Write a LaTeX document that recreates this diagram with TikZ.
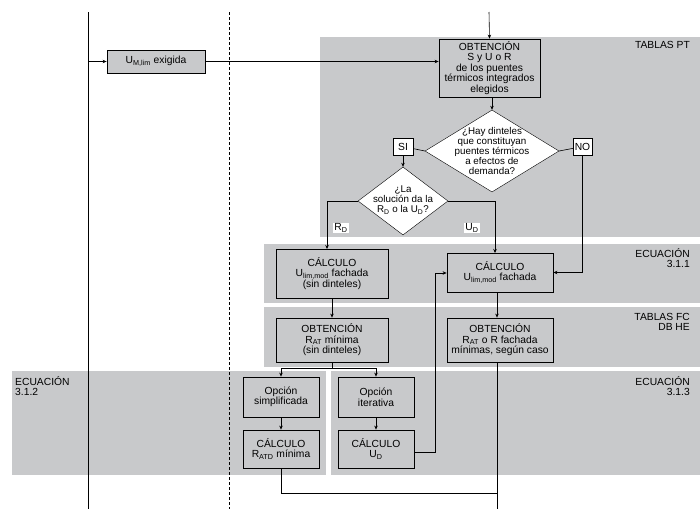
\documentclass[tikz,border=0pt]{standalone}
\usepackage{fontspec}
\setmainfont{Liberation Sans}
\usetikzlibrary{shapes.geometric,arrows.meta}
\definecolor{band}{RGB}{200,201,203}
\begin{document}
\begin{tikzpicture}[x=1pt,y=-1pt,
  every node/.style={font=\fontsize{10.3}{10.5}\selectfont,inner sep=1pt},
  box/.style={draw,fill=band,line width=0.8pt,align=center},
  wbox/.style={draw,fill=white,align=center},
  dia/.style={draw,fill=white,diamond,align=center,inner sep=0pt},
  lab/.style={align=right,anchor=north east},
  arr/.style={-{Stealth[length=4pt,width=3.5pt]},line width=0.6pt},
  ln/.style={line width=0.6pt}]
\useasboundingbox (0,0) rectangle (700,509);
\fill[white] (0,0) rectangle (700,509);
% bands
\fill[band] (320,37) rectangle (700,237);
\fill[band] (264,244) rectangle (700,303);
\fill[band] (264,307) rectangle (700,367);
\fill[band] (12,371) rectangle (326,475);
\fill[band] (331,371) rectangle (700,475);
\node[lab] at (691,40) {TABLAS PT};
\node[lab] at (691,247) {ECUACIÓN\\3.1.1};
\node[lab] at (691,312) {TABLAS FC\\DB HE};
\node[lab] at (691,375) {ECUACIÓN\\3.1.3};
\node[align=left,anchor=north west] at (14,375) {ECUACIÓN\\3.1.2};
% vertical lines
\draw[ln] (88,12) coordinate (s1) -- (88,509);
\draw[ln,dashed,dash pattern=on 3pt off 2pt] (229,12) -- (229,509);
% nodes
\node[box,minimum width=98pt,minimum height=23pt] (um) at (156,61.5) {U\textsubscript{M,lim} exigida};
\node[box,minimum width=101pt,minimum height=58pt] (ob1) at (489.5,68) {OBTENCIÓN\\S y U o R\\de los puentes\\térmicos integrados\\elegidos};
\node[dia,minimum width=134pt,minimum height=82pt] (d1) at (492,151) {};
\node at (492,151) [align=center,font=\fontsize{9.8}{10}\selectfont] {¿Hay dinteles\\que constituyan\\puentes térmicos\\a efectos de\\demanda?};
\node[wbox,minimum width=20pt,minimum height=17pt] (si) at (403,146.5) {SI};
\node[wbox,minimum width=19pt,minimum height=17pt] (no) at (582.5,146.5) {NO};
\node[dia,minimum width=90pt,minimum height=68pt] (d2) at (403,201) {};
\node at (403,200) [align=center,font=\fontsize{9.8}{10}\selectfont] {¿La\\solución da la\\R\textsubscript{D} o la U\textsubscript{D}?};
\node[box,minimum width=112pt,minimum height=49pt] (c1) at (332,273.5) {CÁLCULO\\U\textsubscript{lim,mod} fachada\\(sin dinteles)};
\node[box,minimum width=106pt,minimum height=39pt] (c2) at (500,272.5) {CÁLCULO\\U\textsubscript{lim,mod} fachada};
\node[box,minimum width=112pt,minimum height=44pt] (o2) at (332,340) {OBTENCIÓN\\R\textsubscript{AT} mínima\\(sin dinteles)};
\node[box,minimum width=106pt,minimum height=44pt] (o3) at (500,340) {OBTENCIÓN\\R\textsubscript{AT} o R fachada\\mínimas, según caso};
\node[box,minimum width=76pt,minimum height=40pt] (os) at (281,397) {Opción\\simplificada};
\node[box,minimum width=76pt,minimum height=40pt] (oi) at (376,397) {Opción\\iterativa};
\node[box,minimum width=76pt,minimum height=38pt] (cr) at (281,449) {CÁLCULO\\R\textsubscript{ATD} mínima};
\node[box,minimum width=76pt,minimum height=38pt] (cu) at (376,449) {CÁLCULO\\U\textsubscript{D}};
\node[fill=white] (rd) at (341,228) {R\textsubscript{D}};
\node[fill=white] (ud) at (472,228) {U\textsubscript{D}};
\coordinate (top) at (489,12);
\coordinate (bot) at (497,509);
% connectors
\draw[arr] (s1 |- um) -- (um);
\draw[arr] (um) -- (um -| ob1.west);
\draw[arr] (top) -- (ob1.north);
\draw[arr] (ob1.south -| d1) -- (d1.north);
\draw[ln] (d1.west) -- (si);
\draw[ln] (d1.east) -- (no);
\draw[arr] (si) -- (d2.north);
\draw[arr] (d2.west) -| (327,249);
\draw[arr] (d2.east) -| (495,253);
\draw[arr] (no) |- (c2.east);
\draw[arr] (c1) -- (o2);
\draw[arr] (c2.south -| 497,0) -- (o3.north -| 497,0);
\draw[ln] (o2.south) -- (332,368);
\draw[arr] (332,368) -| (os.north);
\draw[arr] (332,368) -| (oi.north);
\draw[arr] (os) -- (cr);
\draw[arr] (oi) -- (cu);
\draw[arr] (cu.east |- 0,452) -| (435,273) -- (c2.west |- 0,273);
\draw[ln] (cr.south) |- (497,493);
\draw[ln] (o3.south -| 497,0) -- (bot);
\end{tikzpicture}
\end{document}
